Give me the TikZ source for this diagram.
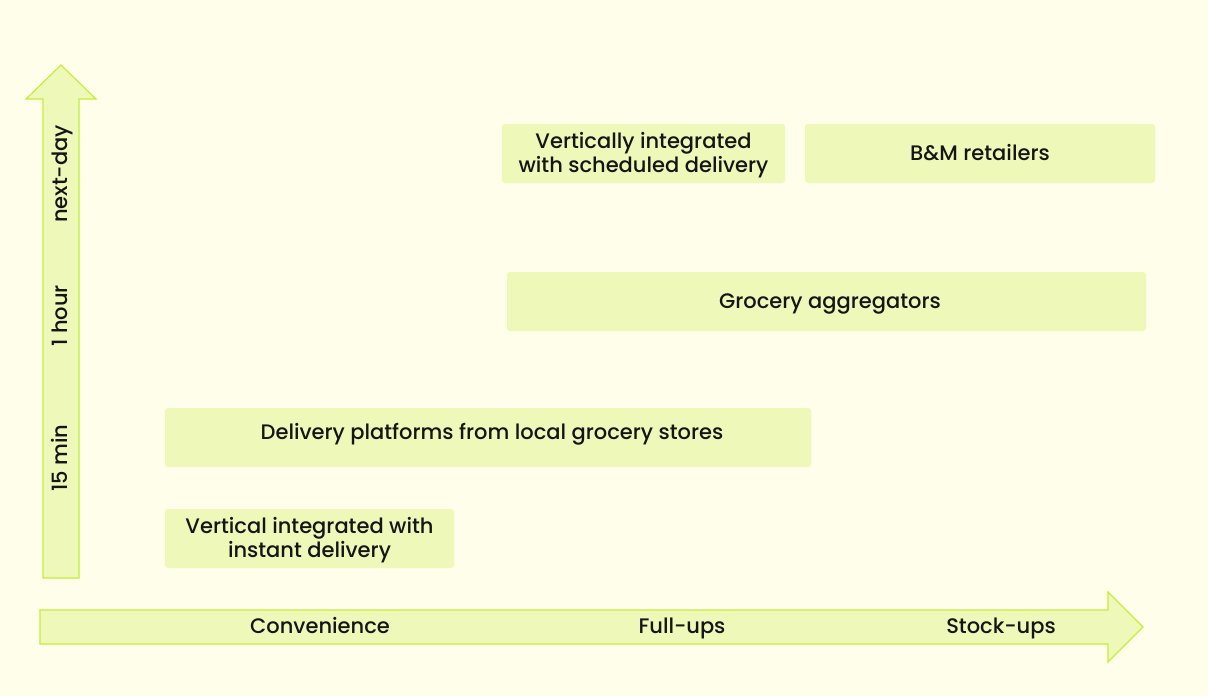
\documentclass[tikz,border=0pt]{standalone}
\usepackage{fontspec}
\setmainfont{Poppins Medium}
\definecolor{bgc}{HTML}{FEFEEA}
\definecolor{boxc}{HTML}{EEF8B8}
\definecolor{linec}{HTML}{C6EE3A}
\definecolor{txt}{HTML}{151515}
\tikzset{
  cell/.style={fill=boxc, rounded corners=3pt, draw=none},
  lbl/.style={font=\fontsize{21}{24}\selectfont, text=txt, align=center, inner sep=0pt, text height=18pt, text depth=5pt},
  lbltwo/.style={lbl, text height=43pt},
  axis/.style={fill=boxc, draw=linec, line width=1.2pt, line join=miter},
}
\begin{document}
\begin{tikzpicture}[x=1pt,y=-1pt]
\useasboundingbox (0,0) rectangle (1208,696);
\fill[bgc] (0,0) rectangle (1208,696);
% vertical axis
\draw[axis] (43,578) -- (43,99) -- (26,99) -- (61,65) -- (96,99) -- (79,99) -- (79,578) -- cycle;
\node[lbl, rotate=90] (nd) at (61,174) {next-day};
\node[lbl, rotate=90] (oh) at (61,316) {1 hour};
\node[lbl, rotate=90] (fm) at (61,458) {15 min};
% horizontal axis
\draw[axis] (40,610) -- (1108,610) -- (1108,592) -- (1143,627) -- (1108,662) -- (1108,644) -- (40,644) -- cycle;
\node[lbl] (cv) at (320,627) {Convenience};
\node[lbl] (fu) at (682,627) {Full-ups};
\node[lbl] (su) at (1001,627) {Stock-ups};
% boxes
\fill[cell] (502,124) rectangle (785,183);
\node[lbltwo] (vis) at (643.5,153.5) {Vertically integrated\\with scheduled delivery};
\fill[cell] (805,124) rectangle (1155,183);
\node[lbl] (bm) at (980,153.5) {B\&M retailers};
\fill[cell] (507,272) rectangle (1146,331);
\node[lbl] (ga) at (830,301.5) {Grocery aggregators};
\fill[cell] (165,408) rectangle (811,467);
\node[lbl] (dp) at (492,432.5) {Delivery platforms from local grocery stores};
\fill[cell] (165,509) rectangle (454,568);
\node[lbltwo] (vii) at (309.5,538.5) {Vertical integrated with\\instant delivery};
\end{tikzpicture}
\end{document}
